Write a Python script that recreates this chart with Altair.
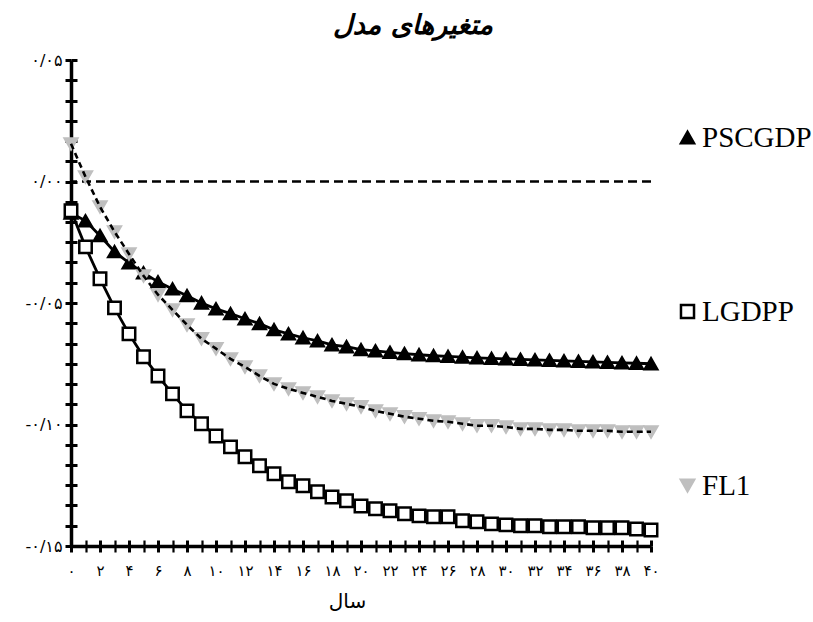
import altair as alt
import pandas as pd

# ---------------- data ----------------
years = list(range(41))
series_names = ["PSCGDP", "LGDPP", "FL1"]

pscgdp = [-0.013, -0.0162, -0.0223, -0.0289, -0.0335, -0.0376, -0.0413, -0.0442,
          -0.047, -0.050, -0.0524, -0.0544, -0.0565, -0.0585, -0.061, -0.0627,
          -0.0643, -0.0656, -0.0672, -0.068, -0.0692, -0.0697, -0.0703, -0.0708,
          -0.0713, -0.0717, -0.072, -0.0723, -0.0726, -0.0728, -0.073, -0.0732,
          -0.0734, -0.0736, -0.0738, -0.074, -0.0742, -0.0744, -0.0746, -0.0748,
          -0.075]

lgdpp = [-0.012, -0.0269, -0.040, -0.052, -0.0627, -0.0721, -0.080, -0.0874,
         -0.0944, -0.0997, -0.1047, -0.1092, -0.1133, -0.117, -0.1203, -0.1236,
         -0.1252, -0.1277, -0.1298, -0.1314, -0.1335, -0.1347, -0.1355, -0.1367,
         -0.1376, -0.138, -0.138, -0.1396, -0.140, -0.1409, -0.1413, -0.1417,
         -0.1417, -0.1421, -0.1421, -0.1421, -0.1425, -0.1425, -0.1425, -0.143,
         -0.1434]

fl1 = [0.0155, 0.0019, -0.0104, -0.0207, -0.0298, -0.0388, -0.0466, -0.0528,
       -0.059, -0.0647, -0.0688, -0.073, -0.0763, -0.080, -0.0833, -0.0853,
       -0.087, -0.0886, -0.0903, -0.0915, -0.0927, -0.0944, -0.0956, -0.0968,
       -0.0976, -0.0985, -0.0989, -0.0997, -0.1005, -0.1005, -0.101, -0.1018,
       -0.1018, -0.1022, -0.1022, -0.1026, -0.1026, -0.1026, -0.103, -0.103,
       -0.103]

x_label_values = list(range(0, 41, 2))
x_tick_labels = ["۰", "۲", "۴", "۶", "۸", "۱۰", "۱۲", "۱۴", "۱۶", "۱۸", "۲۰",
                 "۲۲", "۲۴", "۲۶", "۲۸", "۳۰", "۳۲", "۳۴", "۳۶", "۳۸", "۴۰"]
y_label_values = [0.05, 0.0, -0.05, -0.10, -0.15]
y_tick_labels = ["۰/۰۵", "۰/۰۰", "-۰/۰۵", "-۰/۱۰", "-۰/۱۵"]

title_text = "متغیرهای مدل"
x_title = "سال"

# ---------------- table ----------------
rows = []
for name, vals in zip(series_names, [pscgdp, lgdpp, fl1]):
    for t, v in zip(years, vals):
        rows.append({"year": t, "value": v, "series": name})
df = pd.DataFrame(rows)

y_ticks = [round(i * 0.05 / 6, 6) for i in range(-18, 7)]

x_expr = " : ".join(
    f"datum.value === {v} ? '{lab}'" for v, lab in zip(x_label_values, x_tick_labels)
) + " : ''"
y_expr = " : ".join(
    f"abs(datum.value - ({v})) < 1e-6 ? '{lab}'" for v, lab in zip(y_label_values, y_tick_labels)
) + " : ''"

W, H = 580, 486

x_scale = alt.Scale(domain=[0, 40], nice=False, zero=False)
y_scale = alt.Scale(domain=[-0.15, 0.05], nice=False, zero=False)

tick_w_x = {"condition": {"test": "datum.value % 2 === 0", "value": 3}, "value": 2.2}

x_axis = alt.Axis(values=years, labelExpr=x_expr, orient="bottom", tickSize=6,
                  tickWidth=tick_w_x, tickColor="black", domainColor="black",
                  domainWidth=3.5, labelFont="DejaVu Sans", labelFontSize=15,
                  labelColor="black", labelPadding=11, labelFlush=False,
                  labelOverlap=False, grid=False, title=x_title,
                  titleFont="DejaVu Sans", titleFontSize=20, titleFontWeight="normal",
                  titleColor="black", titleX=276, titleY=55, titleBaseline="middle")
y_axis = alt.Axis(values=y_ticks, labelExpr=y_expr, orient="left", tickSize=6,
                  tickWidth=3, tickColor="black", domainColor="black", domainWidth=3.5,
                  labelFont="DejaVu Sans", labelFontSize=16, labelColor="black",
                  labelPadding=3, labelFlush=False, labelOverlap=False, grid=False,
                  title=None)
x_inner = alt.Axis(values=years, orient="top", offset=-H, tickSize=6,
                   tickWidth=tick_w_x, tickColor="black", labels=False, domain=False,
                   grid=False, title=None)
y_inner = alt.Axis(values=y_ticks, orient="right", offset=-W, tickSize=6,
                   tickWidth=3, tickColor="black", labels=False, domain=False,
                   grid=False, title=None)

leg = alt.Legend(title=None, orient="none", legendX=591, legendY=63, padding=0,
                 rowPadding=144, labelFont="Liberation Serif", labelFontSize=29,
                 labelColor="black", symbolSize=170, symbolStrokeWidth=2.5,
                 symbolOffset=11, labelOffset=0, labelLimit=0, direction="vertical")

shape_enc = alt.Shape("series:N", scale=alt.Scale(domain=series_names,
                      range=["triangle-up", "square", "triangle-down"]), legend=leg)
fill_enc = alt.Fill("series:N", scale=alt.Scale(domain=series_names,
                    range=["black", "white", "#bfbfbf"]), legend=leg)
stroke_enc = alt.Stroke("series:N", scale=alt.Scale(domain=series_names,
                        range=["black", "black", "#bfbfbf"]), legend=leg)

zero_rule = alt.Chart(pd.DataFrame({"value": [0.0]})).mark_rule(
    color="black", strokeWidth=2.5, strokeDash=[9, 5]
).encode(y=alt.Y("value:Q", scale=y_scale, axis=None))

solid_lines = alt.Chart(df).transform_filter("datum.series !== 'FL1'").mark_line(
    color="black", strokeWidth=2.8
).encode(
    x=alt.X("year:Q", scale=x_scale, axis=x_axis),
    y=alt.Y("value:Q", scale=y_scale, axis=y_axis),
    detail="series:N",
)

points = alt.Chart(df).mark_point(filled=True, size=155, strokeWidth=2.5, opacity=1).encode(
    x=alt.X("year:Q", scale=x_scale, axis=None),
    y=alt.Y("value:Q", scale=y_scale, axis=None),
    shape=shape_enc, fill=fill_enc, stroke=stroke_enc,
)

fl1_line = alt.Chart(df).transform_filter("datum.series === 'FL1'").mark_line(
    color="black", strokeWidth=2.6, strokeDash=[6, 4]
).encode(
    x=alt.X("year:Q", scale=x_scale, axis=None),
    y=alt.Y("value:Q", scale=y_scale, axis=None),
)

inner_ticks = alt.Chart(df).mark_point(opacity=0).encode(
    x=alt.X("year:Q", scale=x_scale, axis=x_inner),
    y=alt.Y("value:Q", scale=y_scale, axis=y_inner),
)

chart = alt.layer(zero_rule, solid_lines, points, fl1_line, inner_ticks).resolve_axis(
    x="independent", y="independent"
).properties(
    width=W, height=H,
    background="white",
    padding={"left": 71, "top": 60, "right": 813 - 71 - W, "bottom": 622 - 60 - H},
    autosize=alt.AutoSizeParams(type="none"),
    title=alt.TitleParams(text=title_text, font="DejaVu Sans", fontSize=27,
                          fontWeight="bold", fontStyle="italic", anchor="middle",
                          dx=52, offset=12, color="black"),
).configure_view(stroke=None)

chart.save("out.html", embed_options={"renderer": "svg", "actions": False})
